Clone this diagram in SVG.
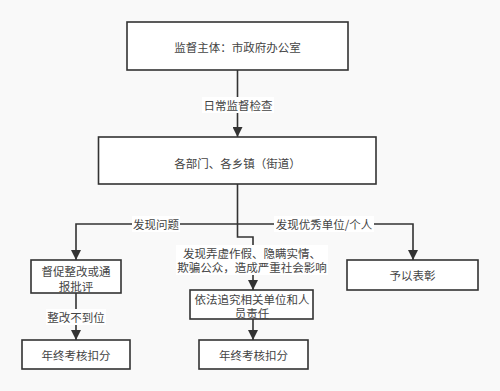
<svg xmlns="http://www.w3.org/2000/svg" width="500" height="391" viewBox="0 0 500 391">
<defs>
<style>
.box{fill:#ffffff;stroke:#333333;stroke-width:1.6}
.t{font-family:"Noto Sans CJK SC","Liberation Sans",sans-serif;font-size:11.5px;fill:#444444;text-anchor:middle;dominant-baseline:central}
.ln{fill:none;stroke:#333333;stroke-width:1.6}
.lbl{fill:#ffffff}
</style>
<marker id="ah" viewBox="0 0 10 10" refX="10" refY="5" markerWidth="10" markerHeight="10" markerUnits="userSpaceOnUse" orient="auto">
<path d="M0,0 L10,5 L0,10 z" fill="#333333"/>
</marker>
</defs>
<rect width="500" height="391" fill="#f9f9f9"/>
<g id="connectors">
<path class="ln" d="M237.5,70 V137" marker-end="url(#ah)"/>
<path class="ln" d="M237.5,184 V237 H253 V290" marker-end="url(#ah)"/>
<path class="ln" d="M237.5,224 H76 V260" marker-end="url(#ah)"/>
<path class="ln" d="M237.5,224 H413 V260" marker-end="url(#ah)"/>
<path class="ln" d="M76,293 V340" marker-end="url(#ah)"/>
<path class="ln" d="M253,319 V340" marker-end="url(#ah)"/>
<rect class="lbl" x="202" y="97" width="72" height="16"/>
<text class="t" x="238" y="105">日常监督检查</text>
<rect class="lbl" x="132" y="216" width="48" height="16"/>
<text class="t" x="156" y="224">发现问题</text>
<rect class="lbl" x="274" y="216" width="100" height="16"/>
<text class="t" x="324" y="224">发现优秀单位/个人</text>
<rect class="lbl" x="176" y="245" width="152" height="30"/>
<text class="t" x="252" y="253">发现弄虚作假、隐瞒实情、</text>
<text class="t" x="252" y="267">欺骗公众，造成严重社会影响</text>
<rect class="lbl" x="46" y="309" width="60" height="16"/>
<text class="t" x="76" y="317">整改不到位</text>
</g>
<g id="n1">
<rect class="box" x="127" y="22" width="221" height="48"/>
<text class="t" x="237.5" y="47">监督主体：市政府办公室</text>
</g>
<g id="n2">
<rect class="box" x="98.5" y="137" width="277.5" height="47"/>
<text class="t" x="237.5" y="163">各部门、各乡镇（街道）</text>
</g>
<g id="n3">
<rect class="box" x="31" y="260" width="90" height="33"/>
<text class="t" x="76" y="271">督促整改或通</text>
<text class="t" x="76" y="286">报批评</text>
</g>
<g id="n4">
<rect class="box" x="190" y="290" width="123" height="29"/>
<text class="t" x="252" y="299">依法追究相关单位和人</text>
<text class="t" x="252" y="313">员责任</text>
</g>
<g id="n5">
<rect class="box" x="347" y="260" width="131" height="30"/>
<text class="t" x="412.5" y="275">予以表彰</text>
</g>
<g id="n6">
<rect class="box" x="22" y="340" width="108" height="29"/>
<text class="t" x="76" y="355">年终考核扣分</text>
</g>
<g id="n7">
<rect class="box" x="199" y="340" width="109" height="29"/>
<text class="t" x="253.5" y="355">年终考核扣分</text>
</g>
</svg>
